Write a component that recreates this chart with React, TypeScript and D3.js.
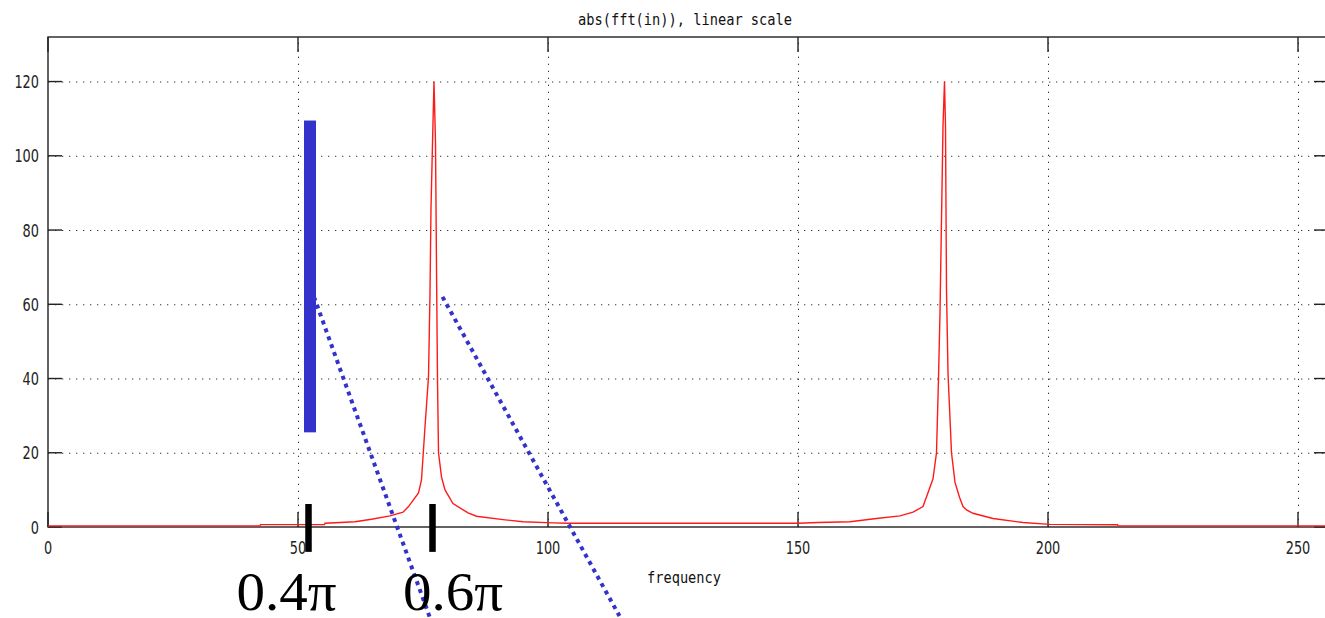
import React from "react";
import * as d3 from "d3";

// ---- data ----
const freqs = [
  0, 42.4, 42.5, 55.3, 55.4, 61.4, 64.7, 68.4, 71.0, 72.1, 74.1, 74.7, 75.4, 76.1, 76.4, 76.6, 77.0, 77.2,
  77.5, 77.7, 77.9, 78.1, 78.7, 79.4, 81.0, 84.0, 85.7, 91.0, 95.0, 101.0, 104.0, 150.0, 154.0, 160.4,
  165.7, 170.4, 173.0, 175.0, 176.0, 177.0, 177.7, 178.1, 178.4, 178.7, 179.0, 179.3, 179.5, 179.7, 180.0,
  180.7, 181.4, 182.3, 183.0, 183.7, 185.0, 189.0, 195.0, 200.4, 213.9, 214.0, 256,
];
const magnitudes = [
  0.3, 0.3, 0.65, 0.65, 1.0, 1.4, 2.1, 3.0, 4.0, 5.5, 9.2, 12.7, 27, 40.5, 63, 86, 109, 120,
  103.5, 70, 39.6, 20, 13.5, 10, 6.3, 3.8, 2.9, 2.0, 1.4, 1.1, 1.0, 1.0, 1.2, 1.4,
  2.3, 3.0, 4.0, 5.5, 9.2, 13, 20, 40, 57.7, 82.8, 108, 120, 108, 64, 41.5,
  20, 12, 8, 5.5, 4.6, 3.7, 2.3, 1.2, 0.7, 0.6, 0.3, 0.3,
];
const xTicks = [0, 50, 100, 150, 200, 250];
const yTicks = [0, 20, 40, 60, 80, 100, 120];
const titleText = "abs(fft(in)), linear scale";
const xLabelText = "frequency";

// annotations (in data units)
const bandBar = { f0: 51.2, f1: 53.6, m0: 25.5, m1: 109.5 };
const dottedLines = [
  { f0: 53.2, m0: 62, f1: 76.4, m1: -24.5 },
  { f0: 78.9, m0: 62, f1: 114.3, m1: -24 },
];
const edgeMarks = [
  { f: 52.1, label: "0.4π", labelF: 47.7 },
  { f: 76.9, label: "0.6π", labelF: 81.0 },
];
const edgeMarkRange = [6.2, -6.7];

export default function App() {
  const W = 1325, H = 618;
  const x = d3.scaleLinear().domain([0, 256]).range([48, 1328]);
  const y = d3.scaleLinear().domain([0, 132]).range([527, 37]);
  const pts: [number, number][] = freqs.map((f, i) => [f, magnitudes[i]]);
  const line = d3.line<[number, number]>().x(d => x(d[0])).y(d => y(d[1]));
  const [x0, x1] = x.range();
  const [yb, yt] = y.range();
  const tickFont = "DejaVu Sans, sans-serif";
  const monoFont = "DejaVu Sans Mono, monospace";
  return (
    <svg width={W} height={H} style={{ position: "absolute", left: 0, top: 0, background: "#fff" }}>
      {/* grid */}
      {yTicks.filter(t => t > 0).map(t => (
        <line key={"gy" + t} x1={x0} x2={x1} y1={y(t) + 0.5} y2={y(t) + 0.5}
          stroke="#333" strokeWidth={1} strokeDasharray="1.3 5.7" />
      ))}
      {xTicks.filter(t => t > 0).map(t => (
        <line key={"gx" + t} x1={x(t) + 0.5} x2={x(t) + 0.5} y1={yb} y2={yt}
          stroke="#333" strokeWidth={1} strokeDasharray="1.3 5.7" />
      ))}
      {/* frame */}
      <rect x={x0} y={yt} width={x1 - x0} height={yb - yt} fill="none" stroke="#222" strokeWidth={1.4} />
      {/* ticks */}
      {yTicks.map(t => (
        <g key={"ty" + t}>
          <line x1={x0} x2={x0 + 14} y1={y(t)} y2={y(t)} stroke="#222" strokeWidth={1.4} />
          <line x1={x1} x2={x1 - 14} y1={y(t)} y2={y(t)} stroke="#222" strokeWidth={1.4} />
          <text x={39} y={y(t) + 6.5} textAnchor="end" fontFamily={tickFont} fontSize={17}
            fill="#222" textLength={String(t).length * 8.2} lengthAdjust="spacingAndGlyphs">{t}</text>
        </g>
      ))}
      {xTicks.map(t => (
        <g key={"tx" + t}>
          <line x1={x(t)} x2={x(t)} y1={yb} y2={yb - 15} stroke="#222" strokeWidth={1.4} />
          <line x1={x(t)} x2={x(t)} y1={yt} y2={yt + 15} stroke="#222" strokeWidth={1.4} />
          <text x={x(t)} y={554} textAnchor="middle" fontFamily={tickFont} fontSize={17}
            fill="#222" textLength={String(t).length * 8.2} lengthAdjust="spacingAndGlyphs">{t}</text>
        </g>
      ))}
      {/* title / label */}
      <text x={685} y={25} textAnchor="middle" fontFamily={monoFont} fontSize={16} fill="#111"
        textLength={214} lengthAdjust="spacingAndGlyphs">{titleText}</text>
      <text x={684} y={583} textAnchor="middle" fontFamily={monoFont} fontSize={16} fill="#111"
        textLength={74} lengthAdjust="spacingAndGlyphs">{xLabelText}</text>
      {/* spectrum */}
      <path d={line(pts) || ""} fill="none" stroke="#ff1a1a" strokeWidth={1.4} />
      {/* annotations */}
      <rect x={x(bandBar.f0)} y={y(bandBar.m1)} width={x(bandBar.f1) - x(bandBar.f0)}
        height={y(bandBar.m0) - y(bandBar.m1)} fill="#3333cc" />
      {dottedLines.map((l, i) => (
        <line key={"dl" + i} x1={x(l.f0)} y1={y(l.m0)} x2={x(l.f1)} y2={y(l.m1)}
          stroke="#3333cc" strokeWidth={4} strokeDasharray="4 4.4" />
      ))}
      {edgeMarks.map((m, i) => (
        <g key={"em" + i}>
          <line x1={x(m.f)} x2={x(m.f)} y1={y(edgeMarkRange[0])} y2={y(edgeMarkRange[1])}
            stroke="#000" strokeWidth={6.5} />
          <text x={x(m.labelF)} y={610} textAnchor="middle" fontFamily="Liberation Serif, serif"
            fontSize={54} fill="#000" textLength={100} lengthAdjust="spacingAndGlyphs">{m.label}</text>
        </g>
      ))}
    </svg>
  );
}
